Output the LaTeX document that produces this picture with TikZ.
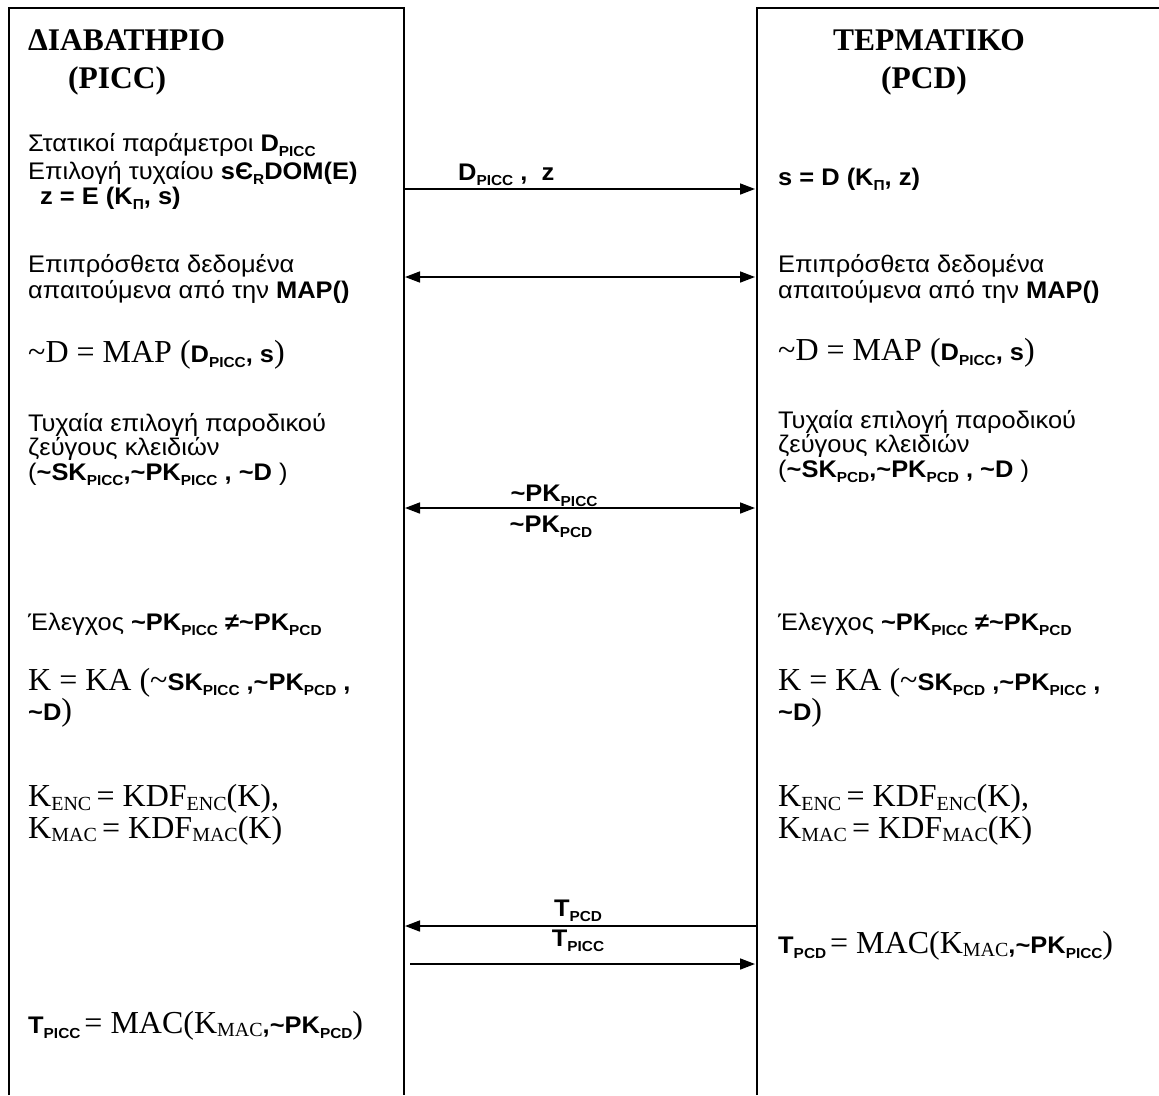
\documentclass[tikz,border=0pt]{standalone}
\usepackage{fontspec}
\setmainfont{Liberation Sans}[FakeStretch=1.06]
\newfontfamily\tms{Liberation Serif}
\usetikzlibrary{arrows.meta}

% small lowered bold sans index (D_PICC, K_Pi ...)
\newcommand\dn[1]{\raisebox{-0.22em}{\fontsize{14.5}{15}\selectfont\bfseries #1}}
% small lowered serif index (K_ENC, KDF_MAC ...)
\newcommand\sdn[1]{\raisebox{-0.12em}{\fontsize{20}{20}\selectfont\tms #1}}
% larger serif pieces of the formulas
\newcommand\fs[1]{{\tms\fontsize{32}{34}\selectfont #1}}
\newcommand\tl{\textasciitilde}

\tikzset{
  txt/.style={anchor=base west, inner sep=0pt, font=\fontsize{24}{25}\selectfont},
  two/.style={txt, align=left, font=\fontsize{24}{26}\selectfont},
  ttl/.style={anchor=base west, inner sep=0pt, font=\tms\bfseries\fontsize{31.5}{34}\selectfont},
  lbl/.style={anchor=base, inner sep=0pt, font=\bfseries\fontsize{24}{25}\selectfont},
  life/.style={line width=1.8pt},
  msg/.style={line width=1.6pt, -{Triangle[length=15pt,width=11pt]}},
  msgboth/.style={line width=1.6pt, {Triangle[length=15pt,width=11pt]}-{Triangle[length=15pt,width=11pt]}}
}

\begin{document}
\begin{tikzpicture}[x=1pt,y=-1pt]
\useasboundingbox (0,0) rectangle (1159,1095);

% the two parties' frames (open at the bottom)
\draw[life] (9,1095) -- (9,8) -- (404,8) -- (404,1095);
\draw[life] (757,1095) -- (757,8) -- (1159,8);

% headings
\node[ttl] (hP1) at (28,50) {ΔΙΑΒΑΤΗΡΙΟ};
\node[ttl] (hP2) at (68,88) {(PICC)};
\node[ttl] (hT1) at (833,50) {ΤΕΡΜΑΤΙΚΟ};
\node[ttl] (hT2) at (881,88) {(PCD)};

% ---------- passport side ----------
\node[txt] (p1) at (28,151) {Στατικοί παράμετροι \textbf{D\dn{PICC}}};
\node[txt] (p2) at (28,179) {Επιλογή τυχαίου \textbf{sЄ\dn{R}DOM(E)}};
\node[txt] (p3) at (40,204) {\textbf{z = E (K\dn{Π}, s)}};
\node[txt] (p4) at (28,272) {Επιπρόσθετα δεδομένα};
\node[txt] (p5) at (28,298) {απαιτούμενα από την \textbf{MAP()}};
\node[txt] (p6) at (28,362) {\fs{\tl D = MAP (}\textbf{D\dn{PICC}, s}\fs{)}};
\node[txt] (p7) at (28,431) {Τυχαία επιλογή παροδικού};
\node[txt] (p8) at (28,455) {ζεύγους κλειδιών};
\node[txt] (p9) at (28,480) {(\textbf{\tl SK\dn{PICC},\tl PK\dn{PICC} , \tl D} )};
\node[txt] (p10) at (28,630) {Έλεγχος \textbf{\tl PK\dn{PICC} ≠\tl PK\dn{PCD}}};
\node[txt] (p11) at (28,690) {\fs{K = KA (\tl}\textbf{SK\dn{PICC} ,\tl PK\dn{PCD} ,}};
\node[txt] (p12) at (28,720) {\textbf{\tl D}\fs{)}};
\node[two] (p13) at (28,838) {\fs{K\sdn{ENC}\,= KDF\sdn{ENC}(K),}\\[1pt]\fs{K\sdn{MAC}\,= KDF\sdn{MAC}(K)}};
\node[txt] (p15) at (28,1033) {\textbf{T\dn{PICC}}\,\fs{= MAC(K\sdn{MAC}}\textbf{,\tl PK\dn{PCD}}\fs{)}};

% ---------- terminal side ----------
\node[txt] (t1) at (778,185) {\textbf{s = D (K\dn{Π}, z)}};
\node[txt] (t2) at (778,272) {Επιπρόσθετα δεδομένα};
\node[txt] (t3) at (778,298) {απαιτούμενα από την \textbf{MAP()}};
\node[txt] (t4) at (778,360) {\fs{\tl D = MAP (}\textbf{D\dn{PICC}, s}\fs{)}};
\node[txt] (t5) at (778,428) {Τυχαία επιλογή παροδικού};
\node[txt] (t6) at (778,452) {ζεύγους κλειδιών};
\node[txt] (t7) at (778,477) {(\textbf{\tl SK\dn{PCD},\tl PK\dn{PCD} , \tl D} )};
\node[txt] (t8) at (778,630) {Έλεγχος \textbf{\tl PK\dn{PICC} ≠\tl PK\dn{PCD}}};
\node[txt] (t9) at (778,690) {\fs{K = KA (\tl}\textbf{SK\dn{PCD} ,\tl PK\dn{PICC} ,}};
\node[txt] (t10) at (778,720) {\textbf{\tl D}\fs{)}};
\node[two] (t11) at (778,838) {\fs{K\sdn{ENC}\,= KDF\sdn{ENC}(K),}\\[1pt]\fs{K\sdn{MAC}\,= KDF\sdn{MAC}(K)}};
\node[txt] (t13) at (778,953) {\textbf{T\dn{PCD}}\,\fs{= MAC(K\sdn{MAC}}\textbf{,\tl PK\dn{PICC}}\fs{)}};

% ---------- message end points on the two frames ----------
\coordinate (a1) at (405,189);  \coordinate (b1) at (755,189);
\coordinate (a2) at (405,277);  \coordinate (b2) at (755,277);
\coordinate (a3) at (405,508);  \coordinate (b3) at (755,508);
\coordinate (a4) at (405,926);  \coordinate (b4) at (757,926);
\coordinate (a5) at (410,964);  \coordinate (b5) at (755,964);

% ---------- messages ----------
\draw[msg] (a1) -- (b1);
\node[lbl, anchor=base west] (m1) at (458,180) {D\dn{PICC} ,\ \ z};
\draw[msgboth] (a2) -- (b2);
\draw[msgboth] (a3) -- (b3);
\node[lbl] (m3a) at (554,501) {\tl PK\dn{PICC}};
\node[lbl] (m3b) at (551,532) {\tl PK\dn{PCD}};
\draw[msg] (b4) -- (a4);
\node[lbl] (m4) at (578,916) {T\dn{PCD}};
\node[lbl] (m5) at (578,946) {T\dn{PICC}};
\draw[msg] (a5) -- (b5);
\end{tikzpicture}
\end{document}
